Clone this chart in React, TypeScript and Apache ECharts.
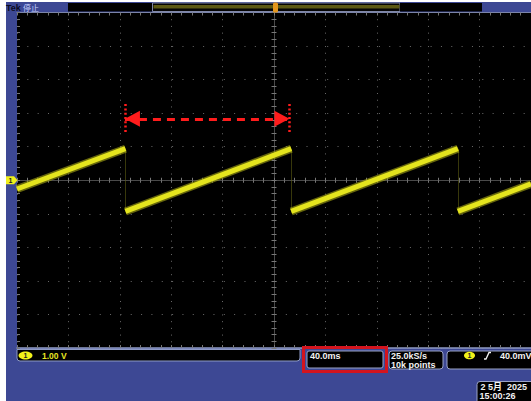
import { useEffect, useRef } from "react";
import * as echarts from "echarts";

// Horizontal scale: 40.0 ms/div, ten divisions centred on the trigger point
const TIME_MIN_MS = -200;
const TIME_MAX_MS = 200;
const TIME_DIV_MS = 40;
// Vertical scale: 1.00 V/div, ten divisions centred on the channel 1 ground level
const VOLT_MIN = -5;
const VOLT_MAX = 5;
const VOLT_DIV = 1;

// Channel 1 sawtooth: each ramp runs from its start point to its end point
const rampStartMs = [-200, -115.6, 13.4, 143.1];
const rampEndMs = [-115.6, 13.4, 143.1, 200];
const rampStartV = [-0.26, -0.93, -0.93, -0.93];
const rampEndV = [0.94, 0.94, 0.94, -0.11];

// Flyback edges between ramps
const resetMs = [-115.6, 13.4, 143.1];
const resetTopV = [0.94, 0.94, 0.94];
const resetBottomV = [-0.93, -0.93, -0.93];

// Red period marker above the first complete ramp
const periodMarkerMs = [-116, 12];
const periodArrowV = 1.83;
const periodBracketV = [1.41, 2.27];

// Readout texts
const statusBrand = "Tek";
const statusText = "停止";
const channelBadge = "1";
const channelScaleLabel = "1.00 V";
const timebaseLabel = "40.0ms";
const sampleRateLabel = "25.0kS/s";
const recordLengthLabel = "10k points";
const triggerLevelLabel = "40.0mV";
const dateLabel = "2 5月  2025";
const timeLabel = "15:00:26";

const GRID = { left: 17, top: 12.5, width: 517, height: 335.5 };
const BLUE = "#3d4894";
const FRAME = "#8e9ac6";
const BOX_EDGE = "#9aa3c6";
const READOUT_FONT = 'bold 9px "Liberation Sans", Arial, sans-serif';
const GRAT_DOT = "#6a6a6a";
const GRAT_TICK = "#777777";
const TRACE = "#e4e41e";
const MARK_RED = "#ff1c1c";
const ARROW_SIZE = [16, 15];

const minorX = GRID.width / 50;
const minorY = GRID.height / 50;
const zeroY = GRID.top + GRID.height / 2;

function timeAxis(extra: any) {
  return {
    type: "value",
    min: TIME_MIN_MS,
    max: TIME_MAX_MS,
    interval: TIME_DIV_MS,
    axisLabel: { show: false },
    splitLine: { show: false },
    ...extra,
  };
}

function voltAxis(extra: any) {
  return {
    type: "value",
    min: VOLT_MIN,
    max: VOLT_MAX,
    interval: VOLT_DIV,
    axisLabel: { show: false },
    splitLine: { show: false },
    ...extra,
  };
}

const tickStyle = (len: number) => ({
  axisTick: { show: true, inside: true, length: len, lineStyle: { color: GRAT_TICK, width: 1 } },
  minorTick: { show: true, splitNumber: 5, length: len, lineStyle: { color: GRAT_TICK, width: 1 } },
});

export default function App() {
  const ref = useRef<HTMLDivElement>(null);

  useEffect(() => {
    if (!ref.current) return;
    const chart = echarts.init(ref.current, null, { renderer: "svg" });

    const ramps = rampStartMs.map((t, i) => ({
      coords: [
        [t, rampStartV[i]],
        [rampEndMs[i], rampEndV[i]],
      ],
    }));
    const resets = resetMs.map((t, i) => ({
      coords: [
        [t, resetTopV[i]],
        [t, resetBottomV[i]],
      ],
    }));

    const bracketStyle = { color: MARK_RED, width: 2.5, type: [2, 2.3] as any };
    // arrowheads sit with their tips on the marker ends
    const arrowEnd = {
      symbol: "triangle",
      symbolSize: ARROW_SIZE,
      symbolOffset: [0, ARROW_SIZE[1] / 2],
      itemStyle: { color: MARK_RED },
    };

    const z = 60;
    const graphics: any[] = [
      // page margins
      { type: "rect", z, shape: { x: 0, y: 0, width: 6, height: 401 }, style: { fill: "#ffffff" } },
      { type: "rect", z, shape: { x: 0, y: 0, width: 531, height: 2 }, style: { fill: "#ffffff" } },
      // status line
      {
        type: "text", z,
        style: { text: statusBrand, x: 6, y: 7.5, font: 'bold 9px "Liberation Sans", Arial, sans-serif', fill: "#0b0b22", textVerticalAlign: "middle" },
      },
      {
        type: "text", z,
        style: { text: statusText, x: 23, y: 7.5, font: '8px "Noto Sans CJK SC", sans-serif', fill: "#c9d3ff", textVerticalAlign: "middle" },
      },
      { type: "rect", z, shape: { x: 68, y: 3, width: 84, height: 8.5 }, style: { fill: "#000" } },
      { type: "rect", z, shape: { x: 152.5, y: 3, width: 247.5, height: 8.5 }, style: { fill: "#050505", stroke: "#8088a8", lineWidth: 1 } },
      { type: "rect", z, shape: { x: 153.5, y: 5, width: 246, height: 3.5 }, style: { fill: "#5c5914" } },
      { type: "rect", z: z + 1, shape: { x: 273, y: 2.5, width: 5, height: 10, r: 1.5 }, style: { fill: "#e4961c" } },
      { type: "rect", z, shape: { x: 400, y: 3, width: 82, height: 8.5 }, style: { fill: "#000" } },
      // ground level marker for channel 1
      {
        type: "polygon", z,
        shape: { points: [[6, zeroY - 4], [14, zeroY - 4], [17.5, zeroY], [14, zeroY + 4], [6, zeroY + 4]] },
        style: { fill: "#f0f01c" },
      },
      {
        type: "text", z: z + 1,
        style: { text: channelBadge, x: 10.5, y: zeroY + 0.3, font: 'bold 7px "Liberation Sans", Arial, sans-serif', fill: "#222", textAlign: "center", textVerticalAlign: "middle" },
      },
      // channel 1 readout
      { type: "rect", z, shape: { x: 17, y: 349.5, width: 283, height: 11.5, r: [0, 0, 3, 3] }, style: { fill: "#000", stroke: FRAME, lineWidth: 1 } },
      { type: "ellipse", z, shape: { cx: 25.5, cy: 355.5, rx: 7, ry: 4 }, style: { fill: "#f2f21a" } },
      {
        type: "text", z: z + 1,
        style: { text: channelBadge, x: 25.5, y: 355.8, font: 'bold 7px "Liberation Sans", Arial, sans-serif', fill: "#222", textAlign: "center", textVerticalAlign: "middle" },
      },
      {
        type: "text", z,
        style: { text: channelScaleLabel, x: 42, y: 355.5, font: 'bold 8.5px "Liberation Sans", Arial, sans-serif', fill: "#e6e622", textVerticalAlign: "middle" },
      },
      // horizontal readout, highlighted
      { type: "rect", z, shape: { x: 307, y: 351, width: 76, height: 17, r: 2 }, style: { fill: "#000", stroke: BOX_EDGE, lineWidth: 1 } },
      {
        type: "text", z,
        style: { text: timebaseLabel, x: 310, y: 355.5, font: READOUT_FONT, fill: "#f2f2f2", textVerticalAlign: "middle" },
      },
      { type: "rect", z: z + 2, shape: { x: 303.5, y: 347.5, width: 83, height: 24 }, style: { fill: "none", stroke: "#d3141e", lineWidth: 3 } },
      // acquisition readout
      { type: "rect", z, shape: { x: 389, y: 351, width: 54, height: 18, r: 3 }, style: { fill: "#000", stroke: BOX_EDGE, lineWidth: 1 } },
      {
        type: "text", z,
        style: { text: sampleRateLabel, x: 391, y: 355.5, font: READOUT_FONT, fill: "#f2f2f2", textVerticalAlign: "middle" },
      },
      {
        type: "text", z,
        style: { text: recordLengthLabel, x: 391, y: 364.5, font: READOUT_FONT, fill: "#f2f2f2", textVerticalAlign: "middle" },
      },
      // trigger readout
      { type: "rect", z, shape: { x: 447, y: 351, width: 90, height: 18, r: 3 }, style: { fill: "#000", stroke: BOX_EDGE, lineWidth: 1 } },
      { type: "ellipse", z, shape: { cx: 469.5, cy: 355.5, rx: 5.5, ry: 3.8 }, style: { fill: "#f2f21a" } },
      {
        type: "text", z: z + 1,
        style: { text: channelBadge, x: 469.5, y: 355.8, font: 'bold 7px "Liberation Sans", Arial, sans-serif', fill: "#222", textAlign: "center", textVerticalAlign: "middle" },
      },
      {
        type: "polyline", z,
        shape: { points: [[484, 359], [486, 359], [489, 352.5], [491, 352.5]] },
        style: { stroke: "#f2f2f2", lineWidth: 1.3, fill: "none" },
      },
      {
        type: "text", z,
        style: { text: triggerLevelLabel, x: 500, y: 355.5, font: READOUT_FONT, fill: "#f2f2f2", textVerticalAlign: "middle" },
      },
      // date / time
      { type: "rect", z, shape: { x: 477, y: 381.5, width: 60, height: 22, r: 3 }, style: { fill: "#000", stroke: BOX_EDGE, lineWidth: 1 } },
      {
        type: "text", z,
        style: { text: dateLabel, x: 480.5, y: 386.5, font: 'bold 9px "Liberation Sans", "Noto Sans CJK SC", Arial, sans-serif', fill: "#f2f2f2", textVerticalAlign: "middle" },
      },
      {
        type: "text", z,
        style: { text: timeLabel, x: 479.5, y: 395.5, font: READOUT_FONT, fill: "#f2f2f2", textVerticalAlign: "middle" },
      },
    ];

    chart.setOption({
      animation: false,
      backgroundColor: BLUE,
      grid: [
        { ...GRID, show: true, backgroundColor: "#000", borderWidth: 0 },
        { ...GRID, show: false },
      ],
      xAxis: [
        // horizontal centre line with its tick marks (upper half) and the vertical graticule
        timeAxis({
          gridIndex: 0,
          position: "bottom",
          axisLine: { show: true, onZero: true, lineStyle: { color: "#4a4a4a", width: 1 } },
          ...tickStyle(2.5),
          splitLine: { show: true, lineStyle: { color: GRAT_DOT, width: 1, type: [1, minorY - 1] } },
        }),
        // lower half of the centre line ticks
        timeAxis({
          gridIndex: 0,
          position: "top",
          axisLine: { show: false, onZero: true, onZeroAxisIndex: 0 },
          ...tickStyle(2.5),
        }),
        // top edge
        timeAxis({
          gridIndex: 1,
          position: "top",
          axisLine: { show: true, onZero: false, lineStyle: { color: "#7b84aa", width: 1 } },
          ...tickStyle(3),
        }),
        // bottom edge
        timeAxis({
          gridIndex: 1,
          position: "bottom",
          axisLine: { show: true, onZero: false, lineStyle: { color: FRAME, width: 1.5 } },
          ...tickStyle(3),
        }),
      ],
      yAxis: [
        // vertical centre line with its tick marks and the horizontal graticule
        voltAxis({
          gridIndex: 0,
          position: "left",
          axisLine: { show: true, onZero: true, lineStyle: { color: "#4a4a4a", width: 1 } },
          ...tickStyle(2.5),
          splitLine: { show: true, lineStyle: { color: GRAT_DOT, width: 1, type: [1, minorX - 1] } },
        }),
        voltAxis({
          gridIndex: 0,
          position: "right",
          axisLine: { show: false, onZero: true, onZeroAxisIndex: 0 },
          ...tickStyle(2.5),
        }),
        // left edge
        voltAxis({
          gridIndex: 1,
          position: "left",
          axisLine: { show: false, onZero: false },
          ...tickStyle(3),
        }),
        voltAxis({
          gridIndex: 1,
          position: "right",
          axisLine: { show: false, onZero: false },
          axisTick: { show: false },
        }),
      ],
      series: [
        {
          name: "CH1 halo",
          type: "lines",
          coordinateSystem: "cartesian2d",
          xAxisIndex: 0,
          yAxisIndex: 0,
          silent: true,
          z: 3,
          data: ramps,
          lineStyle: { color: "#9c9c12", width: 8, opacity: 0.65, curveness: 0 },
        },
        {
          name: "CH1",
          type: "lines",
          coordinateSystem: "cartesian2d",
          xAxisIndex: 0,
          yAxisIndex: 0,
          silent: true,
          z: 4,
          data: ramps,
          lineStyle: { color: TRACE, width: 5, opacity: 1, curveness: 0 },
        },
        {
          name: "CH1 flyback",
          type: "lines",
          coordinateSystem: "cartesian2d",
          xAxisIndex: 0,
          yAxisIndex: 0,
          silent: true,
          z: 2,
          data: resets,
          lineStyle: { color: "#5e5e12", width: 1, opacity: 0.6, curveness: 0 },
          markLine: {
            silent: true,
            animation: false,
            symbol: ["none", "none"],
            label: { show: false },
            emphasis: { disabled: true },
            data: [
              [
                {
                  coord: [periodMarkerMs[0], periodArrowV],
                  ...arrowEnd,
                  lineStyle: { color: MARK_RED, width: 3, type: [8, 6] },
                },
                { coord: [periodMarkerMs[1], periodArrowV], ...arrowEnd },
              ],
              [
                { coord: [periodMarkerMs[0], periodBracketV[1]], lineStyle: bracketStyle },
                { coord: [periodMarkerMs[0], periodBracketV[0]] },
              ],
              [
                { coord: [periodMarkerMs[1], periodBracketV[1]], lineStyle: bracketStyle },
                { coord: [periodMarkerMs[1], periodBracketV[0]] },
              ],
            ],
          },
        },
      ],
      graphic: graphics,
    });

    return () => chart.dispose();
  }, []);

  return (
    <div
      ref={ref}
      style={{ position: "fixed", left: 0, top: 0, width: 531, height: 401 }}
    />
  );
}
